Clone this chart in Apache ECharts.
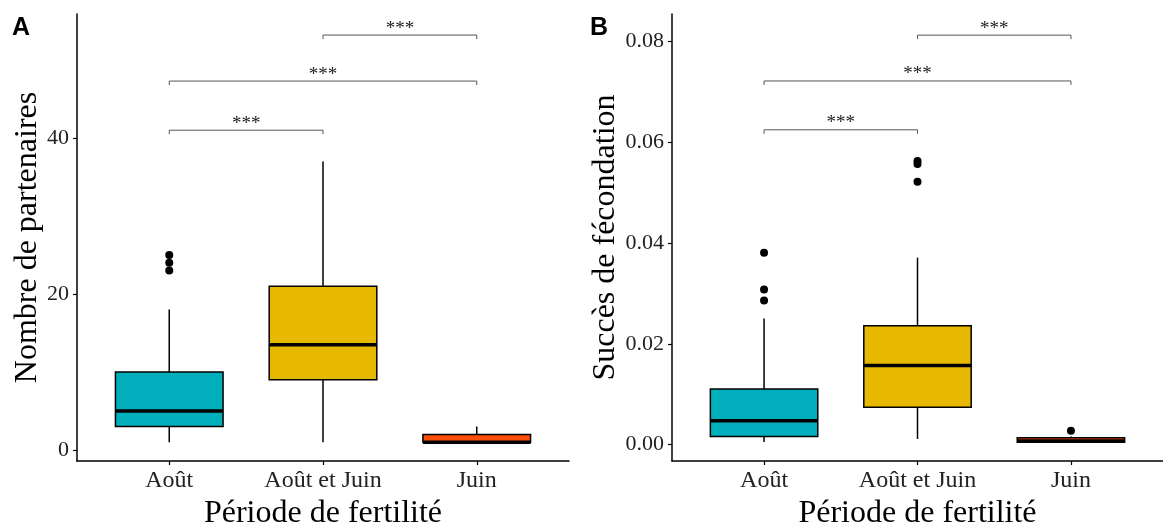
<!DOCTYPE html>
<html><head><meta charset="utf-8">
<script src="https://cdn.jsdelivr.net/npm/echarts@6/dist/echarts.min.js"></script>
<style>html,body{margin:0;padding:0;background:#fff}#c{width:1163px;height:526px}</style>
</head><body><div id="c"></div>
<script>
// ---- data ----
const categories = ['Août', 'Août et Juin', 'Juin'];
// [min whisker, Q1, median, Q3, max whisker]
const partnersBox = [[1, 3, 5, 10, 18], [1, 9, 13.5, 21, 37], [1, 1, 1, 2, 3]];
const partnersOutliers = [[1, 23], [1, 24], [1, 25]];
const successBox = [[0.0005, 0.0016, 0.0047, 0.0110, 0.0250], [0.0011, 0.0074, 0.0157, 0.0236, 0.0371], [0.0003, 0.00045, 0.0007, 0.00135, 0.0016]];
const successOutliers = [[1, 0.0286], [1, 0.0308], [1, 0.0381], [2, 0.0522], [2, 0.0557], [2, 0.0563], [3, 0.00274]];
const partnersTicks = [0, 20, 40];
const successTicks = [0, 0.02, 0.04, 0.06, 0.08];
const comparisons = [[2, 3], [1, 3], [1, 2]];
const partnersBracketY = [53.2, 47.3, 41.0];
const successBracketY = [0.0813, 0.0722, 0.0625];
const signifLabels = ['***', '***', '***'];

// ---- styling ----
const fills = ['#00AFBB', '#E7B800', '#FC4E07'];
const serif = '"Liberation Serif", "Times New Roman", serif';

function boxRender(params, api) {
  const x = api.value(0);
  const lo = api.coord([x, api.value(1)]);
  const q1 = api.coord([x, api.value(2)]);
  const md = api.coord([x, api.value(3)]);
  const q3 = api.coord([x, api.value(4)]);
  const hi = api.coord([x, api.value(5)]);
  const w = api.size([0.7, 0])[0];
  return {
    type: 'group', children: [
      { type: 'line', shape: { x1: hi[0], y1: hi[1], x2: q3[0], y2: q3[1] }, style: { stroke: '#000', lineWidth: 1.5 } },
      { type: 'line', shape: { x1: q1[0], y1: q1[1], x2: lo[0], y2: lo[1] }, style: { stroke: '#000', lineWidth: 1.5 } },
      { type: 'rect', shape: { x: q3[0] - w / 2, y: q3[1], width: w, height: q1[1] - q3[1] }, style: { fill: fills[params.dataIndex], stroke: '#000', lineWidth: 1.5 } },
      { type: 'line', shape: { x1: md[0] - w / 2, y1: md[1], x2: md[0] + w / 2, y2: md[1] }, style: { stroke: '#000', lineWidth: 3.5 } }
    ]
  };
}

function bracketRender(params, api) {
  const a = api.coord([api.value(0), api.value(2)]);
  const b = api.coord([api.value(1), api.value(2)]);
  return {
    type: 'group', children: [
      { type: 'polyline', shape: { points: [[a[0], a[1] + 4], [a[0], a[1]], [b[0], b[1]], [b[0], b[1] + 4]] }, style: { stroke: '#555', lineWidth: 1, fill: null } },
      { type: 'text', x: (a[0] + b[0]) / 2, y: a[1] + 3, style: { text: signifLabels[params.dataIndex], align: 'center', verticalAlign: 'bottom', textAlign: 'center', textVerticalAlign: 'bottom', fontSize: 19, fontFamily: serif, fill: '#222' } }
    ]
  };
}

function xAxis(gridIndex) {
  return {
    type: 'value', gridIndex, min: 0.4, max: 3.6,
    name: 'Période de fertilité', nameLocation: 'middle', nameGap: 34,
    nameTextStyle: { fontFamily: serif, fontSize: 32, color: '#000' },
    axisLine: { onZero: false, lineStyle: { color: '#000', width: 1.5 } },
    axisTick: { customValues: [1, 2, 3], length: 4, lineStyle: { color: '#000', width: 1.2 } },
    axisLabel: { customValues: [1, 2, 3], margin: 8, fontFamily: serif, fontSize: 24, color: '#222', formatter: v => categories[Math.round(v) - 1] },
    splitLine: { show: false }
  };
}

function yAxis(gridIndex, name, min, max, ticks, fmt, gap) {
  return {
    type: 'value', gridIndex, min, max,
    name, nameLocation: 'middle', nameGap: gap,
    nameTextStyle: { fontFamily: serif, fontSize: 32, color: '#000' },
    axisLine: { show: true, onZero: false, lineStyle: { color: '#000', width: 1.5 } },
    axisTick: { show: true, customValues: ticks, length: 4, lineStyle: { color: '#000', width: 1.2 } },
    axisLabel: { customValues: ticks, margin: 8, fontFamily: serif, fontSize: 22, color: '#222', formatter: fmt },
    splitLine: { show: false }
  };
}

const chart = echarts.init(document.getElementById('c'), null, { renderer: 'canvas' });
chart.setOption({
  animation: false,
  backgroundColor: '#fff',
  grid: [
    { left: 77, right: 594, top: 14, bottom: 65, outerBoundsMode: 'none' },
    { left: 672, right: 0, top: 14, bottom: 65, outerBoundsMode: 'none' }
  ],
  xAxis: [xAxis(0), xAxis(1)],
  yAxis: [
    yAxis(0, 'Nombre de partenaires', -1.41, 55.9, partnersTicks, v => String(v), 31),
    yAxis(1, 'Succès de fécondation', -0.00328, 0.0855, successTicks, v => v.toFixed(2), 45)
  ],
  graphic: [
    { type: 'text', left: 12, top: 16, style: { text: 'A', fontFamily: '"Liberation Sans", Arial, sans-serif', fontWeight: 'bold', fontSize: 25, fill: '#000' } },
    { type: 'text', left: 590, top: 16, style: { text: 'B', fontFamily: '"Liberation Sans", Arial, sans-serif', fontWeight: 'bold', fontSize: 25, fill: '#000' } }
  ],
  series: [
    { type: 'custom', xAxisIndex: 0, yAxisIndex: 0, renderItem: boxRender, encode: { x: 0, y: [1, 2, 3, 4, 5] },
      data: partnersBox.map((b, i) => [i + 1].concat(b)), clip: false },
    { type: 'scatter', xAxisIndex: 0, yAxisIndex: 0, data: partnersOutliers, symbolSize: 8, itemStyle: { color: '#000', opacity: 1 } },
    { type: 'custom', xAxisIndex: 0, yAxisIndex: 0, renderItem: bracketRender, encode: { x: [0, 1], y: 2 },
      data: comparisons.map((c, i) => [c[0], c[1], partnersBracketY[i]]), clip: false },
    { type: 'custom', xAxisIndex: 1, yAxisIndex: 1, renderItem: boxRender, encode: { x: 0, y: [1, 2, 3, 4, 5] },
      data: successBox.map((b, i) => [i + 1].concat(b)), clip: false },
    { type: 'scatter', xAxisIndex: 1, yAxisIndex: 1, data: successOutliers, symbolSize: 8, itemStyle: { color: '#000', opacity: 1 } },
    { type: 'custom', xAxisIndex: 1, yAxisIndex: 1, renderItem: bracketRender, encode: { x: [0, 1], y: 2 },
      data: comparisons.map((c, i) => [c[0], c[1], successBracketY[i]]), clip: false }
  ]
});
</script></body></html>
